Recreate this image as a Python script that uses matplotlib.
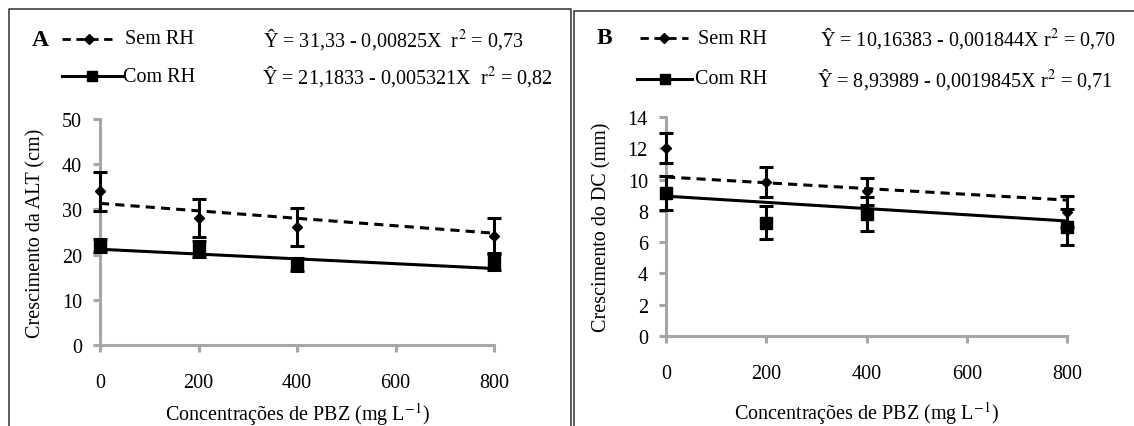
import matplotlib
matplotlib.use("Agg")
import matplotlib.pyplot as plt
from matplotlib.lines import Line2D
import numpy as np

plt.rcParams['font.family'] = ['Liberation Serif', 'DejaVu Serif']
plt.rcParams['mathtext.fontset'] = 'stix'

# doses (mg L-1)
doses = [0, 200, 400, 800]

# panel A - growth of height (cm)
alt_sem = [34.0, 28.1, 26.0, 24.2]
alt_sem_err = [4.3, 4.2, 4.2, 4.0]
alt_com = [22.0, 21.2, 17.8, 18.4]
alt_com_err = [1.4, 1.7, 1.4, 1.9]
alt_sem_coef = (31.33, -0.00825)
alt_com_coef = (21.1833, -0.005321)

# panel B - growth of stem diameter (mm)
dc_sem = [12.0, 9.85, 9.25, 7.95]
dc_sem_err = [0.95, 0.95, 0.85, 1.0]
dc_com = [9.15, 7.25, 7.8, 6.95]
dc_com_err = [1.1, 1.05, 1.1, 1.15]
dc_sem_coef = (10.16383, -0.001844)
dc_com_coef = (8.93989, -0.0019845)

W, H = 1134, 427
fig = plt.figure(figsize=(W / 100, H / 100), dpi=100)

def fx(px):
    return px / W

def fy(py):
    return 1 - py / H

GRAY = '#a6a6a6'
FS = 14.5


def panel(rect, sem, sem_err, com, com_err, c_sem, c_com, ylim, yticks, ylabel, xpad):
    ax = fig.add_axes(rect)
    xs = np.array([doses[0], doses[-1]])
    ax.plot(xs, c_sem[0] + c_sem[1] * xs, color='black', lw=2.2, ls=(0, (3, 2)))
    ax.plot(xs, c_com[0] + c_com[1] * xs, color='black', lw=2.2, ls='-')
    ax.errorbar(doses, sem, yerr=sem_err, fmt='D', color='black', ms=5,
                elinewidth=2.2, capsize=5, capthick=2.2, clip_on=False, zorder=4)
    ax.errorbar(doses, com, yerr=com_err, fmt='s', color='black', ms=8,
                elinewidth=2.2, capsize=5, capthick=2.2, clip_on=False, zorder=4)
    ax.set_xlim(0, 800)
    ax.set_ylim(*ylim)
    ax.set_xticks([0, 200, 400, 600, 800])
    ax.set_yticks(yticks)
    for s in ['top', 'right']:
        ax.spines[s].set_visible(False)
    for s in ['left', 'bottom']:
        ax.spines[s].set_color(GRAY)
        ax.spines[s].set_linewidth(2.2)
    ax.tick_params(axis='both', colors=GRAY, labelcolor='black', width=2.2,
                   length=5, labelsize=FS, direction='out')
    ax.tick_params(axis='x', pad=15)
    ax.tick_params(axis='y', pad=8)
    ax.set_ylabel(ylabel, fontsize=FS, labelpad=12)
    ax.set_xlabel('Concentrações de PBZ (mg L$^{-1}$)', fontsize=FS, labelpad=xpad)
    return ax


axA = panel([fx(100), fy(346), fx(394), 226 / H], alt_sem, alt_sem_err, alt_com,
            alt_com_err, alt_sem_coef, alt_com_coef, (0, 50), [0, 10, 20, 30, 40, 50],
            'Crescimento da ALT (cm)', 6)
axB = panel([fx(666), fy(337), fx(401), 219 / H], dc_sem, dc_sem_err, dc_com,
            dc_com_err, dc_sem_coef, dc_com_coef, (0, 14), list(range(0, 15, 2)),
            'Crescimento do DC (mm)', 12)


def legend_rows(letter, lx, line1, line2, txt1, txt2, eq1, eq2, y1, y2):
    fig.text(fx(lx), fy(y1), letter, fontsize=17, fontweight='bold',
             va='center', ha='left')
    fig.add_artist(Line2D([fx(line1[0]), fx(line1[1])], [fy(y1), fy(y1)],
                          color='black', lw=2, ls=(0, (3, 2))))
    fig.add_artist(Line2D([fx((line1[0] + line1[1]) / 2)], [fy(y1)], marker='D',
                          color='black', ms=5))
    fig.text(fx(txt1), fy(y1), 'Sem RH', fontsize=FS, va='center')
    fig.text(fx(eq1[0]), fy(y1), eq1[1], fontsize=FS, va='center')
    fig.add_artist(Line2D([fx(line2[0]), fx(line2[1])], [fy(y2), fy(y2)],
                          color='black', lw=2.2))
    fig.add_artist(Line2D([fx((line2[0] + line2[1]) / 2)], [fy(y2)], marker='s',
                          color='black', ms=7))
    fig.text(fx(txt2), fy(y2), 'Com RH', fontsize=FS, va='center')
    fig.text(fx(eq2[0]), fy(y2), eq2[1], fontsize=FS, va='center')


legend_rows('A', 32, (62, 115), (62, 122), 125, 123,
            (263, 'Ŷ = 31,33 - 0,00825X  r$^2$ = 0,73'),
            (262, 'Ŷ = 21,1833 - 0,005321X  r$^2$ = 0,82'), 40, 77)
legend_rows('B', 597, (640, 688), (637, 692), 698, 695,
            (820, 'Ŷ = 10,16383 - 0,001844X r$^2$ = 0,70'),
            (817, 'Ŷ = 8,93989 - 0,0019845X r$^2$ = 0,71'), 39, 80)

# panel frames
frame_kw = dict(color='#404040', lw=1.2)
fig.add_artist(Line2D([fx(9), fx(9), fx(571), fx(571)], [0, fy(10), fy(10), 0], **frame_kw))
fig.add_artist(Line2D([fx(574), fx(574), fx(1134)], [0, fy(12), fy(12)], **frame_kw))

fig.savefig('out.png', dpi=100)
